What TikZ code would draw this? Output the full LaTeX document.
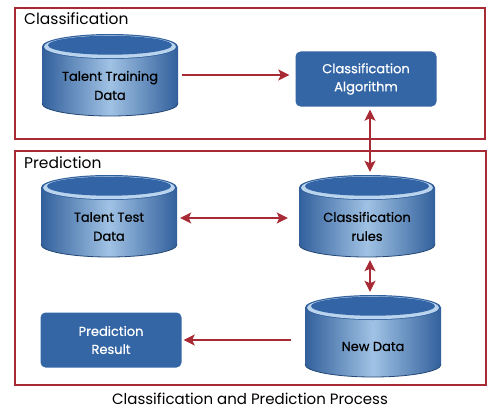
\documentclass[tikz,border=0pt]{standalone}
\usepackage{fontspec}
\setmainfont{Poppins}
\newfontfamily\medfont[FakeBold=0.6]{Poppins}
\usepackage{tikz}
\usetikzlibrary{arrows.meta}
\usetikzlibrary{calc}
\definecolor{frameRed}{RGB}{168,42,52}
\definecolor{boxBlue}{RGB}{52,102,166}
\definecolor{cylSide}{RGB}{50,96,156}
\definecolor{cylMid}{RGB}{160,194,228}
\definecolor{cylTop}{RGB}{50,100,166}
\definecolor{cylRim}{RGB}{186,212,238}
\tikzstyle{frame}=[draw=frameRed,line width=1.6pt]
\tikzstyle{title}=[anchor=west,inner sep=0pt,font=\fontsize{15.5}{18}\selectfont]
\tikzstyle{cylvertex}=[rectangle,minimum width=136pt,minimum height=82pt,inner sep=0pt]
\tikzstyle{cyltext}=[align=center,inner sep=0pt,font=\medfont\fontsize{13}{19}\selectfont]
\tikzstyle{boxvertex}=[rectangle,rounded corners=5pt,fill=boxBlue,text=white,minimum width=141pt,minimum height=55pt,inner sep=0pt,align=center,font=\medfont\fontsize{13}{18}\selectfont]
\tikzstyle{edge}=[draw=frameRed,line width=1.6pt,-{Stealth[length=11pt,width=11pt,inset=2.5pt]}]
\tikzstyle{biedge}=[draw=frameRed,line width=1.6pt,{Stealth[length=11pt,width=11pt,inset=2.5pt]}-{Stealth[length=11pt,width=11pt,inset=2.5pt]}]
\tikzstyle{cylshade}=[left color=cylSide,right color=cylSide,middle color=cylMid]

\begin{document}
\begin{tikzpicture}[x=1pt,y=1pt]
    \useasboundingbox (0,0) rectangle (500,-412);

    \draw[frame] (15,-8) rectangle (485,-139);
    \draw[frame] (15,-151) rectangle (486,-385);
    \node[title] (clsTitle) at (24,-19) {Classification};
    \node[title] (predTitle) at (24,-163) {Prediction};

    % database cylinders: shaded body first, text node on top
    \foreach \cx/\cy/\name/\label in {110/-75/train/{Talent Training\\Data}, 109/-216/test/{Talent Test\\Data}, 367/-216/rules/{Classification\\rules}, 373/-336/new/{New Data}}{
        \shade[cylshade] (\cx-68,\cy-28.5) arc [start angle=180,end angle=360,x radius=68pt,y radius=12.5pt] -- (\cx+68,\cy+28.5) -- (\cx-68,\cy+28.5) -- cycle;
        \draw[cylSide!75!black,line width=0.8pt] (\cx-68,\cy-28.5) arc [start angle=180,end angle=360,x radius=68pt,y radius=12.5pt];
        \fill[cylSide] (\cx,\cy+28.5) ellipse [x radius=68pt,y radius=12.5pt];
        \fill[cylRim] (\cx,\cy+28.3) ellipse [x radius=66pt,y radius=11.5pt];
        \fill[cylTop] (\cx,\cy+29.8) ellipse [x radius=62pt,y radius=9.5pt];
        \node[cylvertex] (\name) at (\cx,\cy) {};
        \node[cyltext] (\name-text) at ([yshift=-10.5pt]\name.center) {\label};
    }

    \foreach \pos/\name/\label in {{(366,-79)/algo/Classification\\Algorithm}, {(111,-340)/result/Prediction\\Result}}
        \node[boxvertex] (\name) at \pos {\label};

    \path[edge,shorten <=4pt,shorten >=6pt] (train.east) -- (train.east -| algo.west);
    \path[biedge,shorten <=3pt,shorten >=3pt] ([xshift=4pt]algo.south) -- ([xshift=4pt]algo.south |- rules.north);
    \path[biedge,shorten <=3pt,shorten >=11pt] ([yshift=-2pt]test.east) -- ([yshift=-2pt]test.east -| rules.west);
    \path[biedge,shorten <=3pt,shorten >=3pt] ([xshift=3pt]rules.south) -- ([xshift=3pt]rules.south |- new.north);
    \path[edge,shorten <=14pt,shorten >=2pt] (new.west |- result.east) -- (result.east);

    \node[font=\fontsize{15}{18}\selectfont] (caption) at (250,-399) {Classification and Prediction Process};
\end{tikzpicture}
\end{document}
